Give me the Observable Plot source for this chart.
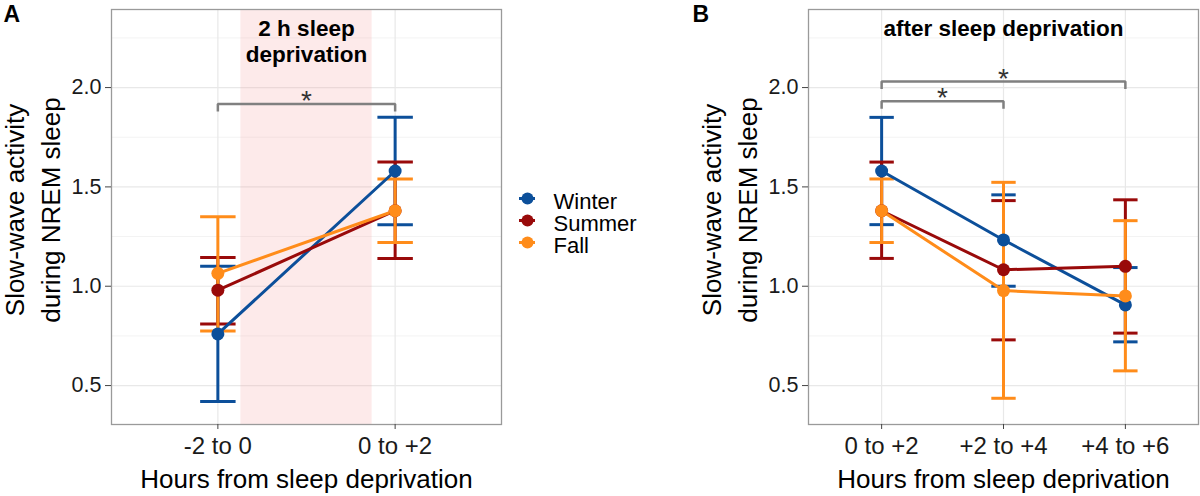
<!DOCTYPE html>
<html><head><meta charset="utf-8">
<script src="https://cdn.jsdelivr.net/npm/d3@7"></script>
<script src="https://cdn.jsdelivr.net/npm/@observablehq/plot@0.6"></script>
<style>
html,body{margin:0;padding:0;background:#fff;}
#wrap{position:relative;width:1200px;height:496px;overflow:hidden;font-family:"Liberation Sans",Arial,sans-serif;}
#wrap > div{position:absolute;}
</style></head><body>
<div id="wrap"><div id="pa" style="left:0;top:0"></div><div id="leg" style="left:505px;top:175px"></div><div id="pb" style="left:680px;top:0"></div></div>
<script>
// ---------------- data ----------------
const seasons = ["Winter", "Summer", "Fall"];
const seasonColors = ["#0C4F9A", "#990A0A", "#FF8C1A"];

const intervalsA = ["-2 to 0", "0 to +2"];
const intervalsB = ["0 to +2", "+2 to +4", "+4 to +6"];

// Panel A (mean, lower, upper)
const winterA = [0.76, 1.58], winterA_lo = [0.42, 1.31], winterA_hi = [1.10, 1.85];
const summerA = [0.98, 1.38], summerA_lo = [0.81, 1.14], summerA_hi = [1.145, 1.625];
const fallA   = [1.065, 1.38], fallA_lo  = [0.775, 1.22], fallA_hi  = [1.35, 1.54];

// Panel B (mean, lower, upper)
const winterB = [1.58, 1.233, 0.906], winterB_lo = [1.31, 1.00, 0.72],  winterB_hi = [1.85, 1.46, 1.094];
const summerB = [1.38, 1.083, 1.10],  summerB_lo = [1.14, 0.73, 0.764], summerB_hi = [1.625, 1.431, 1.435];
const fallB   = [1.38, 0.978, 0.951], fallB_lo   = [1.22, 0.436, 0.574], fallB_hi  = [1.54, 1.523, 1.33];

// significance brackets (interval index from, to; bracket level)
const bracketsA = [{from: 1, to: 2, y: 1.917, label: "*"}];
const bracketsB = [{from: 1, to: 2, y: 1.931, label: "*"}, {from: 1, to: 3, y: 2.03, label: "*"}];

// sleep deprivation period between intervals (panel A)
const deprivationBand = [{start: 1.13, end: 1.87}];

const yMajor = [0.5, 1.0, 1.5, 2.0];
const yMinor = [0.75, 1.25, 1.75, 2.25];
const yDomain = [0.304, 2.393];
const yLabel = ["Slow-wave activity", "during NREM sleep"];
const xLabel = "Hours from sleep deprivation";

// ---------------- drawing ----------------
const FONT = '"Liberation Sans", Arial, Helvetica, sans-serif';
const capHalf = 0.1, legLen = 0.037;

function panel({intervals, series, band, brackets, title, letter, width, marginLeft, marginRight, letterX}) {
  const n = intervals.length;
  const rows = [];
  series.forEach(s => s.mean.forEach((m, i) => rows.push({season: s.season, x: i + 1, mean: m, lo: s.lo[i], hi: s.hi[i]})));
  const segs = rows.flatMap(d => [
    {season: d.season, x1: d.x, x2: d.x, y1: d.lo, y2: d.hi},
    {season: d.season, x1: d.x - capHalf, x2: d.x + capHalf, y1: d.hi, y2: d.hi},
    {season: d.season, x1: d.x - capHalf, x2: d.x + capHalf, y1: d.lo, y2: d.lo}
  ]);
  const bpath = brackets.flatMap((b, k) => [
    {k, x: b.from, y: b.y - legLen}, {k, x: b.from, y: b.y}, {k, x: b.to, y: b.y}, {k, x: b.to, y: b.y - legLen}
  ]);
  const cats = d3.range(1, n + 1);
  return Plot.plot({
    width, height: 496, marginTop: 9, marginBottom: 72, marginLeft, marginRight,
    x: {type: "linear", domain: [0.4, n + 0.6]},
    y: {domain: yDomain},
    color: {domain: seasons, range: seasonColors},
    style: {fontFamily: FONT, background: "transparent", overflow: "visible"},
    marks: [
      Plot.gridY(yMinor, {stroke: "#f3f3f3", strokeOpacity: 1, strokeWidth: 1}),
      Plot.gridY(yMajor, {stroke: "#e8e8e8", strokeOpacity: 1, strokeWidth: 1.2}),
      Plot.gridX(cats, {stroke: "#e8e8e8", strokeOpacity: 1, strokeWidth: 1.2}),
      band ? Plot.rect(band, {x1: "start", x2: "end", fill: "#F8A0A0", fillOpacity: 0.22}) : null,
      Plot.link(segs, {x1: "x1", x2: "x2", y1: "y1", y2: "y2", stroke: "season", strokeWidth: 3}),
      Plot.line(rows, {x: "x", y: "mean", z: "season", stroke: "season", strokeWidth: 3}),
      Plot.dot(rows, {x: "x", y: "mean", fill: "season", r: 6.5}),
      Plot.line(bpath, {x: "x", y: "y", z: "k", stroke: "#808080", strokeWidth: 2.5, strokeLinejoin: "miter", strokeLinecap: "butt"}),
      Plot.text(brackets, {x: b => (b.from + b.to) / 2, y: "y", text: "label", fontSize: 28, fill: "#333", lineAnchor: "middle", dy: -3}),
      Plot.frame({stroke: "#9a9a9a", strokeWidth: 1.3}),
      Plot.axisX(cats, {tickFormat: i => intervals[i - 1], tickSize: 5, tickPadding: 7, fontSize: 24, stroke: "#444", fill: "#1a1a1a", label: null}),
      Plot.axisY(yMajor, {tickFormat: d3.format(".1f"), tickSize: 6, tickPadding: 4, fontSize: 21.5, stroke: "#444", fill: "#1a1a1a", label: null}),
      Plot.text([yLabel[0]], {frameAnchor: "left", textAnchor: "middle", lineAnchor: "middle", rotate: -90, dx: -96, dy: -7, fontSize: 26, fill: "#000"}),
      Plot.text([yLabel[1]], {frameAnchor: "left", textAnchor: "middle", lineAnchor: "middle", rotate: -90, dx: -60, dy: -7, fontSize: 26, fill: "#000"}),
      Plot.text([xLabel], {frameAnchor: "bottom", lineAnchor: "middle", dy: 55, fontSize: 26, fill: "#000"}),
      Plot.text([title], {x: title.x, frameAnchor: "top", lineAnchor: "middle", dy: title.dy, fontSize: 22.5, fontWeight: "bold", lineHeight: 1.16, fill: "#000", text: d => d.text}),
      Plot.text([letter], {frameAnchor: "top-left", lineAnchor: "middle", textAnchor: "start", dx: letterX, dy: 5, fontSize: 23, fontWeight: "bold", fill: "#000"})
    ]
  });
}

const mk = (mean, lo, hi, season) => ({season, mean, lo, hi});

document.getElementById("pa").appendChild(panel({
  intervals: intervalsA,
  series: [mk(winterA, winterA_lo, winterA_hi, "Winter"), mk(summerA, summerA_lo, summerA_hi, "Summer"), mk(fallA, fallA_lo, fallA_hi, "Fall")],
  band: deprivationBand, brackets: bracketsA,
  title: {text: "2 h sleep\ndeprivation", x: 1.5, dy: 31},
  letter: "A", width: 505, marginLeft: 111, marginRight: 4, letterX: -108
}));

document.getElementById("pb").appendChild(panel({
  intervals: intervalsB,
  series: [mk(winterB, winterB_lo, winterB_hi, "Winter"), mk(summerB, summerB_lo, summerB_hi, "Summer"), mk(fallB, fallB_lo, fallB_hi, "Fall")],
  band: null, brackets: bracketsB,
  title: {text: "after sleep deprivation", x: 2, dy: 18},
  letter: "B", width: 520, marginLeft: 128, marginRight: 2, letterX: -116
}));

// legend
document.getElementById("leg").appendChild(Plot.plot({
  width: 160, height: 90, marginTop: 0, marginBottom: 0, marginLeft: 0, marginRight: 0,
  x: {type: "identity", axis: null},
  y: {type: "point", domain: seasons, range: [22, 67], padding: 0, axis: null},
  color: {domain: seasons, range: seasonColors},
  style: {fontFamily: FONT, background: "transparent", overflow: "visible"},
  marks: [
    Plot.ruleY(seasons, {y: d => d, x1: 14, x2: 30, stroke: d => d, strokeWidth: 3}),
    Plot.dot(seasons, {x: 22, y: d => d, fill: d => d, r: 6}),
    Plot.text(seasons, {x: 48, y: d => d, text: d => d, textAnchor: "start", fontSize: 22, dy: 3, fill: "#000"})
  ]
}));
</script>
</body></html>
